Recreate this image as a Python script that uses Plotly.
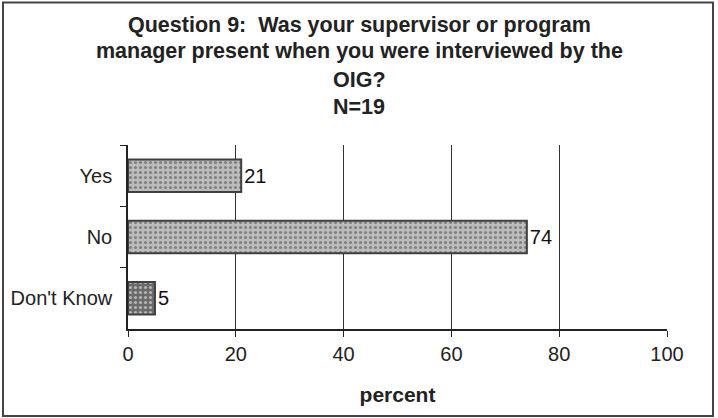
import plotly.graph_objects as go

categories = ["Yes", "No", "Don't Know"]
values = [21, 74, 5]
bar_colors = ["#bcbcbc", "#bcbcbc", "#6a6a6a"]
title_lines = [
    "Question 9:  Was your supervisor or program",
    "manager present when you were interviewed by the",
    "OIG?",
    "N=19",
]
x_ticks = [0, 20, 40, 60, 80, 100]
x_title = "percent"

W, H = 718, 418
L, R, T, B = 128, 51, 145, 89
pw, ph = W - L - R, H - T - B

def px_x(p):
    return (p - L) / pw

def px_y(p):
    return (H - B - p) / ph

FONT = "Liberation Sans, Arial, sans-serif"

fig = go.Figure(go.Bar(
    y=categories, x=values, orientation="h",
    marker=dict(color=bar_colors, line=dict(color="#404040", width=2),
                pattern=dict(shape=".", fgcolor="#9c9c9c", bgcolor="#c3c3c3",
                             size=5, solidity=0.3)),
    width=0.53,
    text=[str(v) for v in values], textposition="outside",
    textfont=dict(family=FONT, size=20, color="#111111"),
    cliponaxis=False,
))

title_y = [25, 51, 80, 107]
annotations = []
for line, yy in zip(title_lines, title_y):
    annotations.append(dict(
        text="<b>" + line + "</b>", xref="paper", yref="paper",
        x=px_x(W / 2), y=px_y(yy), xanchor="center", yanchor="middle",
        showarrow=False, font=dict(family=FONT, size=21.5, color="#222222")))

fig.update_layout(
    width=W, height=H,
    margin=dict(l=L, r=R, t=T, b=B, autoexpand=False),
    paper_bgcolor="white", plot_bgcolor="white",
    showlegend=False,
    annotations=annotations,
    shapes=[dict(type="rect", xref="paper", yref="paper",
                 x0=px_x(3), x1=px_x(713), y0=px_y(416), y1=px_y(2.5),
                 line=dict(color="#444444", width=2), layer="below")],
    xaxis=dict(range=[0, 100], tickvals=x_ticks, ticks="outside", ticklen=6,
               tickcolor="#222222", showgrid=True, gridcolor="#333333", gridwidth=1,
               showline=True, linecolor="#222222", linewidth=1.5,
               zeroline=False,
               tickfont=dict(family=FONT, size=20, color="#222222"),
               title=dict(text="<b>" + x_title + "</b>", standoff=24,
                          font=dict(family=FONT, size=21, color="#222222"))),
    yaxis=dict(categoryorder="array", categoryarray=categories, autorange="reversed",
               tickson="boundaries", ticks="outside", ticklen=6, tickcolor="#222222",
               showline=True, linecolor="#222222", linewidth=1.5, showgrid=False,
               ticklabelstandoff=10,
               tickfont=dict(family=FONT, size=20, color="#222222")),
    bargap=0.47,
)

fig.write_html("out.html", config={"displayModeBar": False},
               post_script="document.body.style.margin='0';")
